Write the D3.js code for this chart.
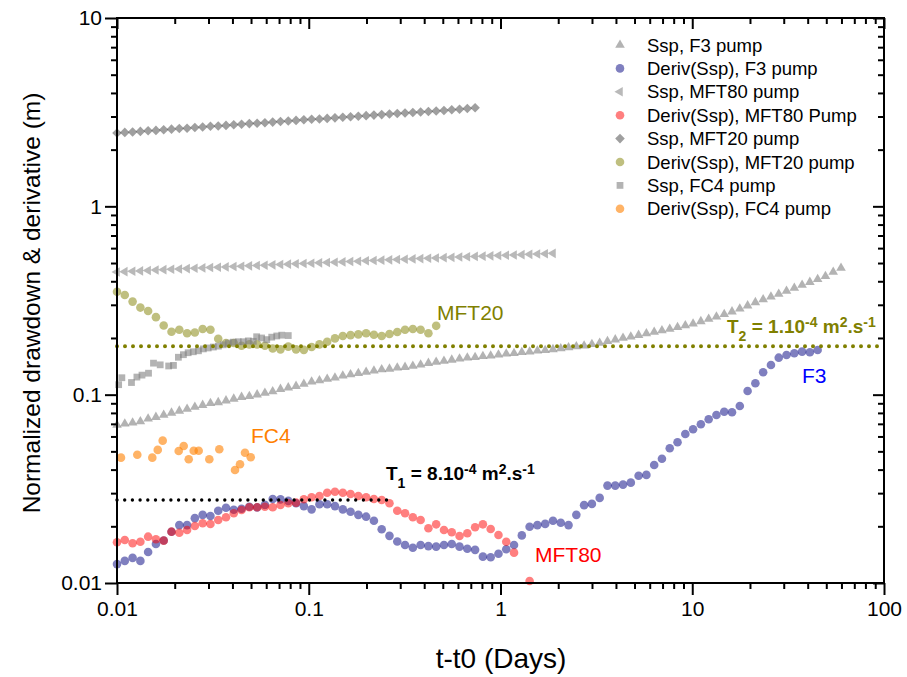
<!DOCTYPE html>
<html><head><meta charset="utf-8">
<script src="https://cdn.jsdelivr.net/npm/d3@7"></script>
<style>
body{margin:0;background:#fff}
text{font-family:Arial,"Liberation Sans",sans-serif}
</style>
</head><body>
<svg id="c" width="907" height="677"></svg>
<script>
// ---------- DATA ----------
// common time grid (days)
const T = [0.01000,0.01098,0.01206,0.01324,0.01453,0.01596,0.01752,0.01924,0.02113,0.02320,
0.02547,0.02797,0.03071,0.03372,0.03702,0.04064,0.04463,0.04900,0.05380,0.05907,
0.06486,0.07122,0.07820,0.08586,0.09428,0.1035,0.1137,0.1248,0.1370,0.1505,
0.1652,0.1814,0.1992,0.2187,0.2401,0.2636,0.2895,0.3178,0.3490,0.3832,
0.4207,0.4619,0.5072,0.5569,0.6115,0.6714,0.7372,0.8094,0.8888,0.9759,
1.0715,1.1765,1.2918,1.4184,1.5575,1.710,1.878,2.062,2.264,2.486,
2.729,2.997,3.290,3.613,3.967,4.355,4.782,5.251,5.766,6.331,
6.950,7.632,8.380,9.201,10.10,11.09,12.18,13.37,14.68,16.12,
17.70,19.44,21.34,23.43,25.73,28.25,31.02,34.06,37.40,41.06,
45.08,49.50,54.35,59.68];

const sspF3 = [0.069,0.070,0.071,0.072,0.0745,0.076,0.078,0.080,0.082,0.084,
0.086,0.088,0.090,0.091,0.093,0.095,0.097,0.098,0.100,0.102,
0.104,0.107,0.109,0.111,0.114,0.117,0.119,0.121,0.123,0.126,
0.128,0.130,0.132,0.134,0.136,0.137,0.139,0.140,0.142,0.144,
0.147,0.149,0.151,0.153,0.155,0.157,0.158,0.160,0.161,0.163,
0.165,0.166,0.168,0.169,0.171,0.172,0.174,0.176,0.178,0.180,
0.182,0.185,0.188,0.192,0.196,0.200,0.203,0.207,0.211,0.215,
0.219,0.223,0.228,0.233,0.238,0.245,0.252,0.259,0.267,0.276,
0.286,0.297,0.309,0.320,0.331,0.342,0.355,0.368,0.382,0.396,
0.410,0.425,0.448,0.470];

const derivF3 = [0.0126,0.0131,0.0136,0.0131,0.0146,0.0161,0.0168,0.0187,0.0203,0.0203,
0.0221,0.0230,0.0227,0.0242,0.0251,0.0245,0.0248,0.0254,0.0252,0.0260,
0.0279,0.0278,0.0273,0.0265,0.0256,0.0246,0.0262,0.0262,0.0256,0.0246,
0.0239,0.0230,0.0225,0.0214,0.0193,0.0178,0.0166,0.0159,0.0154,0.0159,
0.0157,0.0156,0.0159,0.0161,0.0156,0.0152,0.0150,0.0138,0.0137,0.0143,
0.0151,0.0159,0.0179,0.0199,0.0203,0.0206,0.0214,0.0209,0.0203,0.0230,
0.0259,0.0263,0.0283,0.0329,0.0329,0.0333,0.0341,0.0371,0.0375,0.0423,
0.0457,0.0519,0.0559,0.0618,0.0655,0.0696,0.0740,0.0780,0.0812,0.0806,
0.0871,0.1046,0.1150,0.1315,0.1438,0.1572,0.1625,0.1659,0.1692,0.1680,
0.1728];

const sspMFT80 = [0.448,0.450,0.452,0.454,0.456,0.459,0.461,0.463,0.465,0.467,
0.469,0.471,0.473,0.475,0.477,0.479,0.481,0.483,0.485,0.487,
0.489,0.491,0.493,0.495,0.497,0.499,0.501,0.503,0.505,0.507,
0.509,0.511,0.514,0.516,0.518,0.520,0.522,0.524,0.526,0.528,
0.530,0.532,0.534,0.536,0.538,0.540,0.542,0.544,0.546,0.548,
0.550,0.552,0.554,0.556,0.558,0.560,0.563];

const derivMFT80 = [0.01645,0.01692,0.01625,0.01657,0.01762,0.01707,0.01678,0.01873,0.0185,0.01912,
0.02007,0.02075,0.02057,0.0216,0.02233,0.02346,0.02442,0.02523,0.02523,0.02542,
0.02523,0.02595,0.0265,0.0267,0.02783,0.02852,0.02897,0.03017,0.03054,0.03017,
0.0297,0.02897,0.02852,0.02793,0.02759,0.0265,0.02421,0.02346,0.02233,0.0216,
0.01952,0.02049,0.01912,0.0186,0.01777,0.01836,0.01976,0.02049,0.01935,0.01799,
0.01657,0.01449,null,0.01025];

const sspMFT20 = [2.45,2.47,2.48,2.50,2.52,2.53,2.55,2.57,2.59,2.60,
2.62,2.64,2.66,2.67,2.69,2.71,2.73,2.75,2.76,2.78,
2.80,2.82,2.84,2.86,2.88,2.90,2.91,2.93,2.95,2.97,
2.99,3.01,3.03,3.05,3.07,3.09,3.11,3.13,3.15,3.17,
3.19,3.21,3.23,3.26,3.28,3.31,3.34];

const derivMFT20 = [0.352,0.338,0.312,0.290,0.278,0.258,0.233,0.216,0.221,0.212,
0.214,0.223,0.221,0.198,0.188,0.188,0.182,0.185,0.185,0.182,
0.176,0.174,0.180,0.174,0.173,0.179,0.185,0.191,0.199,0.205,
0.207,0.209,0.212,0.208,0.205,0.210,0.215,0.221,0.223,0.221,
0.212,0.232];

const tFC4 = [0.0102,0.0106,0.0119,0.0127,0.0135,0.0146,0.0155,0.0168,0.0186,0.0197,
0.0209,0.0222,0.0235,0.0250,0.0266,0.0282,0.0299,0.0318,0.0338,0.0358,
0.0381,0.0404,0.0429,0.0456,0.0484,0.0514,0.0535,0.0568,0.0604,0.0641,
0.0681,0.0723,0.0782];
const sspFC4 = [0.113,0.123,0.116,0.124,0.127,0.130,0.147,0.144,0.142,0.143,
0.158,0.163,0.167,0.169,0.171,0.175,0.177,0.179,0.181,0.184,
0.188,0.190,0.191,0.191,0.193,0.192,0.203,0.200,0.196,0.202,
0.205,0.207,0.206];

const tFC4d = [0.01049,0.01276,0.01528,0.01631,0.01731,0.02098,0.02228,0.02366,0.02512,0.02667,
0.03030,0.03416,0.04125,0.04380,0.04650,0.04982];
const derivFC4 = [0.0463,0.0480,0.0463,0.0509,0.0570,0.0502,0.0534,0.0454,0.0504,0.0504,
0.0454,0.0513,0.0398,0.0427,0.0492,0.0465];

const legendLabels = ["Ssp, F3 pump","Deriv(Ssp), F3 pump","Ssp, MFT80 pump","Deriv(Ssp), MFT80 Pump",
  "Ssp, MFT20 pump","Deriv(Ssp), MFT20 pump","Ssp, FC4 pump","Deriv(Ssp), FC4 pump"];
const xTicks = [0.01,0.1,1,10,100];
const yTicks = [0.01,0.1,1,10];
const T1 = {t:[0.01,0.275], v:0.0276};
const T2 = {t:[0.01,100], v:0.181};

// ---------- CHART ----------
const svg = d3.select("#c");
const x = d3.scaleLog().domain([0.01,100]).range([117,884]);
const y = d3.scaleLog().domain([0.01,10]).range([583,18]);

const pair = (ts, vs) => vs.map((v,i)=>({t:ts[i], v})).filter(d=>d.v!=null);

const series = [
  {data: pair(T, sspF3),        sym:"triUp",  fill:"#808080", op:0.6},
  {data: pair(T, derivF3),      sym:"circle", fill:"#000080", op:0.5},
  {data: pair(T, sspMFT80),     sym:"triLeft",fill:"#808080", op:0.55},
  {data: pair(T, derivMFT80),   sym:"circle", fill:"#ff0000", op:0.5},
  {data: pair(T, sspMFT20),     sym:"diamond",fill:"#404040", op:0.5},
  {data: pair(T, derivMFT20),   sym:"circle", fill:"#808000", op:0.5},
  {data: pair(tFC4, sspFC4),    sym:"square", fill:"#808080", op:0.6},
  {data: pair(tFC4d, derivFC4), sym:"circle", fill:"#ff8000", op:0.6}
];

function symPath(type){
  if(type==="triUp"||type==="triLeft") return d3.symbol().type(d3.symbolTriangle).size(40)();
  if(type==="diamond") return d3.symbol().type(d3.symbolSquare).size(46)();
  if(type==="square") return d3.symbol().type(d3.symbolSquare).size(46)();
  return null;
}
function rot(type){ return type==="triLeft"? -90 : type==="diamond"? 45 : 0; }

function drawMarks(g, pts, s){
  if(s.sym==="circle"){
    g.selectAll("circle").data(pts).join("circle")
      .attr("cx",d=>d.px).attr("cy",d=>d.py).attr("r",4.3)
      .attr("fill",s.fill).attr("fill-opacity",s.op);
  } else {
    const p = symPath(s.sym);
    g.selectAll("path").data(pts).join("path")
      .attr("d",p)
      .attr("transform",d=>`translate(${d.px},${d.py}) rotate(${rot(s.sym)})`)
      .attr("fill",s.fill).attr("fill-opacity",s.op);
  }
}

const plot = svg.append("g");
series.forEach(s=>{
  const pts = s.data.map(d=>({px:x(d.t), py:y(d.v)}));
  drawMarks(plot.append("g"), pts, s);
});

// reference dotted lines
const ln = d3.line().x(d=>x(d[0])).y(d=>y(d[1]));
svg.append("path").attr("d", ln([[T2.t[0],T2.v],[T2.t[1],T2.v]]))
  .attr("stroke","#808000").attr("stroke-width",4).attr("stroke-linecap","round")
  .attr("stroke-dasharray","0,8").attr("fill","none");
svg.append("path").attr("d", ln([[T1.t[0],T1.v],[T1.t[1],T1.v]]))
  .attr("stroke","#000").attr("stroke-width",3.4).attr("stroke-linecap","round")
  .attr("stroke-dasharray","0,7.7").attr("fill","none");

// axes
const minorX = [], minorY = [];
for(let e=-2;e<2;e++) for(let m=2;m<10;m++) minorX.push(m*Math.pow(10,e));
for(let e=-2;e<1;e++) for(let m=2;m<10;m++) minorY.push(m*Math.pow(10,e));
const fmt = d => d>=1 ? d3.format("d")(d) : String(d);

function styleAxis(g){
  g.selectAll(".domain").remove();
  g.selectAll("line").attr("stroke","#000").attr("stroke-width",2);
  g.selectAll("text").attr("font-size",21).attr("fill","#000")
    .attr("font-family","Arial, 'Liberation Sans', sans-serif");
}
// bottom
svg.append("g").attr("transform","translate(0,583)")
  .call(d3.axisBottom(x).tickValues(xTicks).tickFormat(fmt).tickSize(12).tickPadding(6)).call(styleAxis);
svg.append("g").attr("transform","translate(0,583)")
  .call(d3.axisBottom(x).tickValues(minorX).tickFormat("").tickSize(6)).call(styleAxis);
// top (inward)
svg.append("g").attr("transform","translate(0,18)")
  .call(d3.axisTop(x).tickValues(xTicks).tickFormat("").tickSize(-11)).call(styleAxis);
svg.append("g").attr("transform","translate(0,18)")
  .call(d3.axisTop(x).tickValues(minorX).tickFormat("").tickSize(-6)).call(styleAxis);
// left
svg.append("g").attr("transform","translate(117,0)")
  .call(d3.axisLeft(y).tickValues(yTicks).tickFormat(fmt).tickSize(12).tickPadding(3)).call(styleAxis);
svg.append("g").attr("transform","translate(117,0)")
  .call(d3.axisLeft(y).tickValues(minorY).tickFormat("").tickSize(6)).call(styleAxis);
// right (inward)
svg.append("g").attr("transform","translate(884,0)")
  .call(d3.axisRight(y).tickValues(yTicks).tickFormat("").tickSize(-11)).call(styleAxis);
svg.append("g").attr("transform","translate(884,0)")
  .call(d3.axisRight(y).tickValues(minorY).tickFormat("").tickSize(-6)).call(styleAxis);
// frame
svg.append("rect").attr("x",117).attr("y",18).attr("width",767).attr("height",565)
  .attr("fill","none").attr("stroke","#000").attr("stroke-width",2);

// axis titles
svg.append("text").attr("x",501).attr("y",668).attr("text-anchor","middle")
  .attr("font-size",28).text("t-t0 (Days)");
svg.append("text").attr("transform","translate(40,303) rotate(-90)").attr("text-anchor","middle")
  .attr("font-size",24.5).text("Normalized drawdown & derivative (m)");

// legend
const lg = svg.append("g");
legendLabels.forEach((lab,i)=>{
  const cy = 45 + 23.4*i, s = series[i];
  const g = lg.append("g");
  drawMarks(g, [{px:620, py:cy}], s);
  g.append("text").attr("x",647).attr("y",cy+6.5).attr("font-size",18.5).text(lab);
});

// curve labels
const labs = [
  {t:"MFT20", x:437, y:320, c:"#808000"},
  {t:"FC4",   x:251, y:443, c:"#ff8000"},
  {t:"MFT80", x:535, y:562, c:"#ff0000"},
  {t:"F3",    x:802, y:383, c:"#0000ff"}
];
labs.forEach(l=>svg.append("text").attr("x",l.x).attr("y",l.y).attr("fill",l.c)
  .attr("font-size",21).text(l.t));

function tLabel(px, py, sub, mant, exp, color){
  const t = svg.append("text").attr("x",px).attr("y",py).attr("fill",color)
    .attr("font-size",19).attr("font-weight","bold");
  t.append("tspan").text("T");
  t.append("tspan").attr("font-size",14).attr("dy",8).text(sub);
  t.append("tspan").attr("dy",-8).text(" = " + mant);
  t.append("tspan").attr("font-size",14).attr("dy",-6).text(exp);
  t.append("tspan").attr("dy",6).text(" m");
  t.append("tspan").attr("font-size",14).attr("dy",-6).text("2");
  t.append("tspan").attr("dy",6).text(".s");
  t.append("tspan").attr("font-size",14).attr("dy",-6).text("-1");
}
tLabel(386, 480, "1", "8.10", "-4", "#000");
tLabel(727, 333, "2", "1.10", "-4", "#808000");
</script>
</body></html>
